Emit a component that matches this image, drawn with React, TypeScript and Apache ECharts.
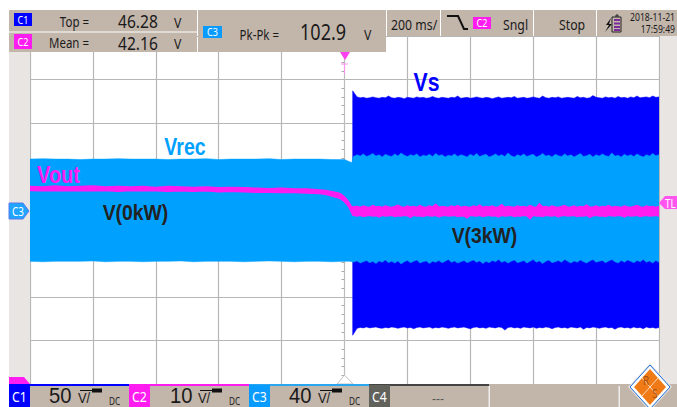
import React, { useEffect, useRef } from "react";
import * as echarts from "echarts";

// Horizontal: ms relative to trigger (200 ms/div). Vertical: screen divisions.
const timeBefore = [-1000,-960,-920,-880,-840,-800,-760,-720,-680,-640,-600,-560,-520,-480,-440,-400,-360,-320,-280,-240,-200,-160,-120,-80,-40,0,16,24];
const vrecUpBefore = [1.17,1.18,1.17,1.17,1.16,1.17,1.17,1.18,1.17,1.17,1.17,1.16,1.17,1.17,1.18,1.16,1.17,1.17,1.17,1.18,1.16,1.17,1.17,1.17,1.16,1.16,1.11,1.09];
const vrecLoBefore = [-1.18,-1.19,-1.18,-1.18,-1.18,-1.17,-1.19,-1.18,-1.18,-1.19,-1.18,-1.18,-1.17,-1.19,-1.18,-1.18,-1.18,-1.19,-1.18,-1.17,-1.18,-1.19,-1.18,-1.18,-1.19,-1.18,-1.18,-1.19];

const timeAfter = [
  26,40,50,60,70,80,90,100,110,120,
  130,140,150,160,170,180,190,200,210,220,
  230,240,250,260,270,280,290,300,310,320,
  330,340,350,360,370,380,390,400,410,420,
  430,440,450,460,470,480,490,500,510,520,
  530,540,550,560,570,580,590,600,610,620,
  630,640,650,660,670,680,690,700,710,720,
  730,740,750,760,770,780,790,800,810,820,
  830,840,850,860,870,880,890,900,910,920,
  930,940,950,960,970,980,990,1000,
];
const vsUp = [
  2.74,2.6,2.58,2.59,2.57,2.58,2.6,2.58,2.57,2.59,
  2.58,2.62,2.58,2.57,2.59,2.58,2.56,2.59,2.58,2.57,
  2.6,2.58,2.59,2.57,2.58,2.61,2.58,2.57,2.59,2.58,
  2.57,2.59,2.58,2.62,2.57,2.58,2.59,2.57,2.58,2.6,
  2.58,2.57,2.59,2.58,2.56,2.58,2.6,2.57,2.58,2.59,
  2.58,2.61,2.57,2.58,2.59,2.57,2.58,2.6,2.58,2.57,
  2.62,2.58,2.57,2.59,2.58,2.6,2.57,2.58,2.59,2.58,
  2.57,2.61,2.58,2.59,2.57,2.58,2.63,2.59,2.58,2.57,
  2.6,2.58,2.59,2.57,2.61,2.58,2.59,2.57,2.6,2.58,
  2.62,2.58,2.59,2.6,2.58,2.62,2.59,2.6,
];
const vsLo = [
  -2.88,-2.72,-2.7,-2.71,-2.69,-2.71,-2.7,-2.69,-2.71,-2.72,
  -2.7,-2.71,-2.69,-2.7,-2.72,-2.7,-2.69,-2.71,-2.7,-2.73,
  -2.7,-2.69,-2.71,-2.7,-2.69,-2.72,-2.7,-2.71,-2.69,-2.7,
  -2.72,-2.7,-2.69,-2.71,-2.7,-2.69,-2.71,-2.73,-2.7,-2.69,
  -2.71,-2.7,-2.72,-2.69,-2.7,-2.71,-2.69,-2.7,-2.76,-2.7,
  -2.69,-2.71,-2.7,-2.72,-2.69,-2.7,-2.71,-2.69,-2.72,-2.7,
  -2.71,-2.69,-2.7,-2.73,-2.7,-2.69,-2.71,-2.7,-2.72,-2.69,
  -2.7,-2.71,-2.69,-2.74,-2.7,-2.71,-2.69,-2.7,-2.72,-2.7,
  -2.69,-2.71,-2.7,-2.74,-2.7,-2.69,-2.71,-2.7,-2.72,-2.69,
  -2.71,-2.7,-2.73,-2.69,-2.71,-2.7,-2.72,-2.7,
];
const vrecUpAfter = [
  1.22,1.27,1.24,1.29,1.23,1.26,1.3,1.24,1.27,1.22,
  1.28,1.25,1.23,1.29,1.24,1.31,1.26,1.23,1.27,1.25,
  1.29,1.22,1.26,1.24,1.28,1.23,1.3,1.25,1.27,1.22,
  1.26,1.24,1.29,1.23,1.27,1.25,1.22,1.28,1.24,1.3,
  1.23,1.26,1.28,1.22,1.25,1.29,1.24,1.27,1.23,1.31,
  1.25,1.22,1.27,1.24,1.29,1.23,1.26,1.28,1.22,1.25,
  1.3,1.24,1.26,1.22,1.28,1.25,1.23,1.29,1.24,1.27,
  1.22,1.26,1.3,1.23,1.25,1.28,1.22,1.27,1.24,1.29,
  1.25,1.23,1.31,1.24,1.26,1.22,1.28,1.24,1.27,1.23,
  1.29,1.25,1.22,1.27,1.24,1.3,1.25,1.27,
];
const vrecLoAfter = [
  -1.2,-1.17,-1.22,-1.19,-1.16,-1.21,-1.18,-1.23,-1.17,-1.2,
  -1.15,-1.21,-1.18,-1.22,-1.17,-1.24,-1.19,-1.16,-1.21,-1.18,
  -1.15,-1.22,-1.19,-1.17,-1.23,-1.18,-1.2,-1.16,-1.21,-1.18,
  -1.14,-1.2,-1.17,-1.22,-1.19,-1.16,-1.21,-1.18,-1.15,-1.2,
  -1.17,-1.23,-1.18,-1.21,-1.16,-1.19,-1.14,-1.2,-1.17,-1.22,
  -1.18,-1.15,-1.21,-1.19,-1.16,-1.22,-1.18,-1.14,-1.2,-1.17,
  -1.23,-1.18,-1.15,-1.21,-1.19,-1.16,-1.2,-1.14,-1.18,-1.22,
  -1.17,-1.2,-1.15,-1.19,-1.22,-1.17,-1.14,-1.2,-1.18,-1.16,
  -1.21,-1.17,-1.14,-1.19,-1.22,-1.16,-1.2,-1.15,-1.18,-1.21,
  -1.16,-1.19,-1.14,-1.2,-1.17,-1.22,-1.16,-1.2,
];

const timeVoutBefore = [-1000,-960,-920,-880,-840,-800,-760,-720,-680,-640,-600,-560,-520,-480,-440,-400,-360,-320,-280,-240,-200,-160,-120,-80,-60,-40,-20,-10,0,10,16,20,24];
const voutUpBefore = [0.54,0.53,0.55,0.53,0.54,0.55,0.53,0.54,0.53,0.54,0.52,0.54,0.53,0.52,0.53,0.51,0.52,0.51,0.5,0.49,0.5,0.48,0.48,0.46,0.45,0.42,0.39,0.36,0.3,0.22,0.15,0.1,0.07];
const voutLoBefore = [0.45,0.44,0.45,0.44,0.45,0.44,0.45,0.43,0.45,0.44,0.44,0.43,0.44,0.43,0.44,0.42,0.43,0.42,0.41,0.41,0.4,0.4,0.39,0.38,0.36,0.32,0.28,0.25,0.19,0.11,0.04,-0.02,-0.08];
const voutUpAfter = [
  0.07,0.08,0.06,0.09,0.07,0.06,0.1,0.07,0.08,0.06,
  0.09,0.07,0.06,0.08,0.11,0.07,0.06,0.09,0.07,0.08,
  0.06,0.1,0.07,0.06,0.09,0.07,0.13,0.06,0.08,0.07,
  0.06,0.09,0.07,0.1,0.06,0.08,0.07,0.06,0.09,0.07,
  0.11,0.06,0.08,0.07,0.09,0.06,0.07,0.12,0.06,0.08,
  0.07,0.06,0.09,0.07,0.08,0.06,0.1,0.07,0.06,0.14,
  0.07,0.08,0.06,0.09,0.07,0.06,0.08,0.1,0.06,0.07,
  0.09,0.06,0.08,0.07,0.11,0.06,0.07,0.09,0.06,0.08,
  0.07,0.1,0.06,0.08,0.07,0.06,0.09,0.07,0.06,0.08,
  0.1,0.07,0.06,0.09,0.07,0.08,0.06,0.08,
];
const voutLoAfter = [
  -0.12,-0.14,-0.12,-0.15,-0.13,-0.12,-0.14,-0.13,-0.16,-0.12,
  -0.14,-0.13,-0.12,-0.15,-0.13,-0.14,-0.12,-0.13,-0.17,-0.12,
  -0.14,-0.13,-0.15,-0.12,-0.13,-0.14,-0.12,-0.16,-0.13,-0.12,
  -0.14,-0.13,-0.12,-0.15,-0.13,-0.14,-0.18,-0.12,-0.13,-0.14,
  -0.12,-0.15,-0.13,-0.12,-0.14,-0.13,-0.16,-0.12,-0.14,-0.13,
  -0.12,-0.15,-0.13,-0.14,-0.12,-0.13,-0.2,-0.12,-0.14,-0.13,
  -0.15,-0.12,-0.13,-0.14,-0.12,-0.16,-0.13,-0.12,-0.14,-0.13,
  -0.12,-0.15,-0.13,-0.14,-0.12,-0.17,-0.13,-0.12,-0.14,-0.13,
  -0.15,-0.12,-0.13,-0.14,-0.12,-0.13,-0.16,-0.12,-0.14,-0.13,
  -0.12,-0.15,-0.13,-0.12,-0.14,-0.13,-0.12,-0.14,
];

const channels = ["C1", "C2", "C3", "C4"];
const scales = ["50", "10", "40"];
const measTop = { name: "Top =", value: "46.28", unit: "V" };
const measMean = { name: "Mean =", value: "42.16", unit: "V" };
const measPk = { name: "Pk-Pk =", value: "102.9", unit: "V" };

const BEIGE = "#c2b5aa";
const STRIP = "#e9e5e2";
const BLUE = "#0000ff";
const CYAN = "#00a0ff";
const MAGENTA = "#ff1cf0";
const NARROW = '"Noto Sans", sans-serif';
const BOLD = '"Liberation Sans", sans-serif';

function envelope(name: string, t: number[], up: number[], lo: number[], color: string, lineWidth: number) {
  const n = Math.min(t.length, up.length, lo.length);
  const rows = t.slice(0, n).map((x, i) => [x, up[i], lo[i]]);
  return {
    type: "custom",
    name,
    silent: true,
    clip: true,
    encode: { x: 0, y: [1, 2] },
    data: rows,
    renderItem: (params: any, api: any) => {
      if (params.dataIndex !== 0) return null;
      const upper = rows.map((r) => api.coord([r[0], r[1]]));
      const lower = rows.map((r) => api.coord([r[0], r[2]])).reverse();
      return { type: "polygon", shape: { points: upper.concat(lower) }, style: { fill: color, stroke: color, lineWidth } };
    },
  };
}

const rect = (x: number, y: number, w: number, h: number, fill: string) => ({
  type: "rect", z: 100, shape: { x, y, width: w, height: h }, style: { fill }, silent: true,
});
const txt = (x: number, y: number, text: string, size: number, fill = "#1a1a1a", align = "left") => ({
  type: "text", z: 100, x, y, scaleX: 0.82, silent: true,
  style: { text, fill, fontSize: size, lineHeight: size, fontFamily: NARROW, textAlign: align, textVerticalAlign: "middle" },
});
const foot = (x: number, y: number, text: string, size: number, fill = "#1a1a1a", align = "left") => ({
  type: "text", z: 100, x, y, scaleX: 0.92, silent: true,
  style: { text, fill, fontSize: size, lineHeight: size, fontFamily: BOLD, textAlign: align, textVerticalAlign: "middle" },
});
const label = (x: number, y: number, text: string, size: number, fill: string, scaleX: number) => ({
  type: "text", z: 100, x, y, scaleX, silent: true,
  style: { text, fill, fontSize: size, fontFamily: BOLD, fontWeight: "bold", textAlign: "center", textVerticalAlign: "middle" },
});
const poly = (points: number[][], fill: string, stroke?: string) => ({
  type: "polygon", z: 100, shape: { points }, silent: true, style: { fill, stroke, lineWidth: stroke ? 1 : 0 },
});
const pline = (points: number[][], stroke: string, lineWidth = 1) => ({
  type: "polyline", z: 100, shape: { points }, silent: true, style: { stroke, lineWidth, fill: "none" },
});

function decorations() {
  const g: any[] = [
    // side strips
    rect(9, 36, 21, 348, STRIP),
    rect(660, 36, 17, 348, STRIP),
    // trigger markers
    poly([[340, 52], [350, 52], [345, 60]], "#ff40f0"),
    pline([[341, 64], [348, 64]], "#ff90f0", 1),
    pline([[344.5, 64], [344.5, 74]], "#ff90f0", 1),
    poly([[337, 384], [344.5, 375], [353, 384]], "#ffffff", "#c4c4c4"),
    // channel markers
    poly([[9, 203], [23, 203], [29, 211], [23, 219], [9, 219]], "#1fa5ff", "#5a7af0"),
    txt(12, 211, "C3", 12, "#ffffff"),
    poly([[677, 196], [665, 196], [659, 203], [665, 209], [677, 209]], "#ff55ee"),
    txt(665, 203, "TL", 12, "#ffffff"),
    poly([[9, 384], [9, 377], [24, 377], [30, 384]], MAGENTA),
    // trace labels
    label(426.5, 82, "Vs", 25, BLUE, 0.85),
    label(185, 147, "Vrec", 23, CYAN, 0.85),
    label(58.5, 175, "Vout", 23, MAGENTA, 0.87),
    label(135.5, 212, "V(0kW)", 22, "#222222", 0.88),
    label(484.5, 235, "V(3kW)", 22, "#222222", 0.88),
    // header
    rect(9, 10, 188, 21.5, BEIGE),
    rect(9, 32.5, 188, 19.5, BEIGE),
    rect(198, 10, 188, 42, BEIGE),
    rect(387, 10, 53, 26, BEIGE),
    rect(441, 10, 92, 26, BEIGE),
    rect(534, 10, 62, 26, BEIGE),
    rect(597, 10, 80, 26, BEIGE),
    rect(14, 13, 18, 13, BLUE),
    txt(23, 19.5, channels[0], 11, "#ffffff", "center"),
    rect(14, 34, 18, 15, MAGENTA),
    txt(23, 41.5, channels[1], 11, "#ffffff", "center"),
    rect(203, 26, 19, 12, "#0a9bff"),
    txt(212.5, 32, channels[2], 11, "#ffffff", "center"),
    txt(89, 22, measTop.name, 14, "#1a1a1a", "right"),
    txt(89, 43, measMean.name, 14, "#1a1a1a", "right"),
    txt(118, 20, measTop.value, 19, "#1a1a1a"),
    txt(118, 42, measMean.value, 19, "#1a1a1a"),
    txt(174, 22, measTop.unit, 15, "#1a1a1a"),
    txt(174, 43, measMean.unit, 15, "#1a1a1a"),
    txt(279, 35, measPk.name, 14, "#1a1a1a", "right"),
    txt(300, 32, measPk.value, 22, "#1a1a1a"),
    txt(364, 34, measPk.unit, 15, "#1a1a1a"),
    txt(391, 24, "200 ms/", 15, "#1a1a1a"),
    pline([[447, 16], [458, 16], [464, 29], [468, 29]], "#111111", 2),
    rect(473, 17, 18, 12, MAGENTA),
    txt(482, 23, channels[1], 11, "#ffffff", "center"),
    txt(503, 24, "Sngl", 15, "#1a1a1a"),
    txt(559, 24, "Stop", 15, "#1a1a1a"),
    // battery icon
    pline([[616, 17], [621, 17], [621, 32], [612, 32], [612, 17], [616, 17], [616, 15], [618, 15], [618, 17]], "#222222", 1),
    rect(614, 19, 6, 2, "#7a2a9a"), rect(614, 22.5, 6, 2, "#7a2a9a"), rect(614, 26, 6, 2, "#7a2a9a"), rect(614, 29, 6, 2, "#7a2a9a"),
    poly([[611, 18], [606, 25], [609, 25], [605, 32], [612, 24], [609, 24]], "#111111"),
    txt(675, 17, "2018-11-21", 10.5, "#1a1a1a", "right"),
    txt(675, 29, "17:59:49", 10.5, "#1a1a1a", "right"),
    // footer
    rect(9, 384, 668, 23, BEIGE),
    rect(9, 384, 120, 2, BLUE),
    rect(129, 384, 120, 2, MAGENTA),
    rect(249, 384, 120, 2, "#2aa5f0"),
    rect(369, 384, 120, 2, "#444444"),
    rect(9, 385, 21, 22, BLUE),
    rect(129, 385, 21, 22, MAGENTA),
    rect(249, 385, 21, 22, "#0a9bff"),
    rect(369, 385, 21, 22, "#62625c"),
    rect(488.5, 386, 1.5, 21, "#eeeeee"),
    rect(618.5, 386, 1.5, 21, "#eeeeee"),
    foot(49, 395, scales[0], 22),
    foot(170, 395, scales[1], 22),
    foot(289, 395, scales[2], 22),
  ];
  [0, 120, 240].forEach((dx) => {
    g.push(foot(78 + dx, 398, "V/", 14));
    g.push(txt(109 + dx, 401, "DC", 10));
    g.push(pline([[80 + dx, 390.5], [92 + dx, 390.5]], "#111111", 1));
    g.push(rect(92 + dx, 388.5, 10, 4, "#111111"));
  });
  [0, 1, 2, 3].forEach((i) => {
    g.push(txt(19.5 + i * 120, 396, channels[i], 15, "#ffffff", "center"));
  });
  g.push(foot(438, 399, "---", 13, "#555555", "center"));
  // logo
  g.push(poly([[650, 363], [672, 387], [650, 411], [628, 387]], "#e9e5e2"));
  g.push(poly([[650, 365], [670, 387], [650, 409], [630, 387]], "#ffffff", "#1668d8"));
  g.push(poly([[650, 369], [666, 387], [650, 405], [634, 387]], "#f07a16"));
  g.push(pline([[642, 378], [658, 396]], "#f8d8b8", 1));
  g.push(pline([[658, 378], [642, 396]], "#f8d8b8", 1));
  g.push(txt(646, 380, "R", 12, "#a85010", "center"));
  g.push(txt(655, 393, "S", 12, "#a85010", "center"));
  return g;
}

export default function App() {
  const ref = useRef<HTMLDivElement>(null);
  useEffect(() => {
    if (!ref.current) return;
    const chart = echarts.init(ref.current, undefined, { renderer: "svg" });
    chart.setOption({
      animation: false,
      backgroundColor: "#ffffff",
      grid: { left: 30, right: 18, top: 36, bottom: 23 },
      xAxis: {
        type: "value", min: -1000, max: 1000, interval: 200,
        axisLabel: { show: false },
        axisLine: { show: true, onZero: true, lineStyle: { color: "#bdbdbd", width: 1 } },
        axisTick: { show: false },
        minorTick: { show: true, splitNumber: 5, length: 3, lineStyle: { color: "#a8a8a8" } },
        splitLine: { show: true, lineStyle: { color: "#b6b6b6", width: 1.2 } },
      },
      yAxis: {
        type: "value", min: -4, max: 4, interval: 1,
        axisLabel: { show: false },
        axisLine: { show: true, onZero: true, lineStyle: { color: "#bdbdbd", width: 1 } },
        axisTick: { show: false },
        minorTick: { show: true, splitNumber: 5, length: 3, lineStyle: { color: "#a8a8a8" } },
        splitLine: { show: true, lineStyle: { color: "#b6b6b6", width: 1.2 } },
      },
      series: [
        envelope("Vs", timeAfter, vsUp, vsLo, BLUE, 0.5),
        envelope("Vrec", timeBefore.concat(timeAfter), vrecUpBefore.concat(vrecUpAfter), vrecLoBefore.concat(vrecLoAfter), CYAN, 0.5),
        envelope("Vout", timeVoutBefore.concat(timeAfter), voutUpBefore.concat(voutUpAfter), voutLoBefore.concat(voutLoAfter), MAGENTA, 1.5),
      ],
      graphic: { elements: decorations() },
    });
    return () => chart.dispose();
  }, []);
  return <div ref={ref} style={{ position: "fixed", left: 0, top: 0, width: 677, height: 407 }} />;
}
